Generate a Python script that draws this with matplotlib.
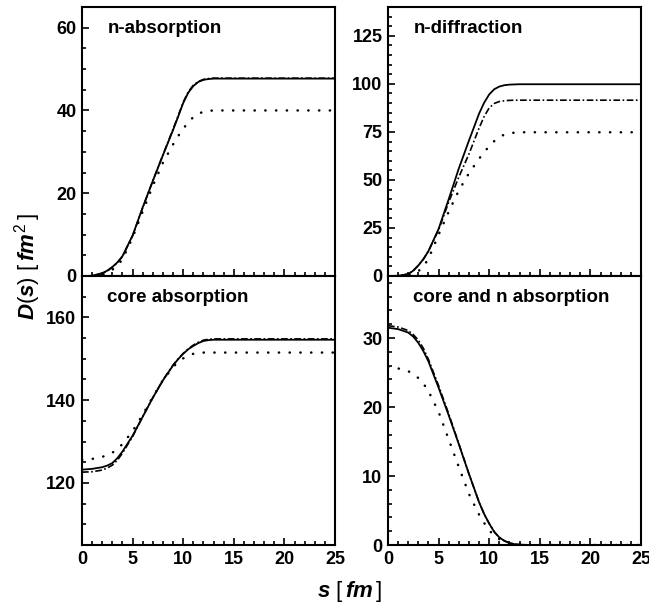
import matplotlib
matplotlib.use("Agg")
import matplotlib.pyplot as plt
from matplotlib.ticker import MultipleLocator

plt.rcParams['font.family'] = ['Liberation Sans', 'DejaVu Sans']
plt.rcParams['mathtext.fontset'] = 'custom'
plt.rcParams['mathtext.it'] = 'Liberation Sans:italic:bold'
plt.rcParams['mathtext.rm'] = 'Liberation Sans'
plt.rcParams['mathtext.bf'] = 'Liberation Sans:bold'

# s grid (fm)
s = [0, 1, 2, 2.5, 3, 3.5, 4, 5, 6, 7, 8, 9, 9.5, 10, 10.5, 11, 11.5, 12, 12.5, 13, 14, 25]

# n-absorption
nabs_solid = [0, 0.05, 0.7, 1.3, 2.2, 3.3, 4.8, 9.8, 16.6, 23, 29.2, 35.3, 38.5, 41.8,
              44.3, 45.9, 46.9, 47.4, 47.6, 47.7, 47.7, 47.7]
nabs_dashdot = [0, 0.05, 0.6, 1.2, 2.1, 3.2, 4.7, 9.7, 16.5, 23, 29.3, 35.5, 38.7, 42,
                44.5, 46.1, 47.0, 47.5, 47.7, 47.8, 47.8, 47.8]
nabs_dotted = [0, 0, 0.3, 0.8, 1.5, 2.6, 4, 9.3, 15.6, 21.8, 27.4, 31.8, 33.8, 35.6,
               37.1, 38.4, 39.2, 39.7, 39.9, 40, 40, 40]

# n-diffraction
ndif_solid = [0, 0.1, 1, 2.8, 5.5, 8.8, 13, 24.5, 40, 56, 70.5, 84.5, 90.2, 94.5,
              97.2, 98.6, 99.3, 99.6, 99.7, 99.8, 99.8, 99.8]
ndif_dashdot = [0, 0.1, 1, 2.8, 5.5, 8.8, 13, 24, 38.5, 51.5, 63.5, 77, 83, 87.5,
                89.8, 90.8, 91.2, 91.4, 91.5, 91.5, 91.5, 91.5]
ndif_dotted = [0, 0, 0.4, 1.2, 2.5, 5, 9, 21.5, 33.5, 44.5, 53.5, 61, 64.5, 67.5,
               70.2, 72.3, 73.6, 74.3, 74.6, 74.8, 74.8, 74.8]

# core absorption
cabs_solid = [123.2, 123.4, 123.8, 124.2, 124.8, 126, 127.6, 131.4, 136, 140.6, 144.8,
              148.4, 149.9, 151.2, 152.3, 153.1, 153.8, 154.3, 154.5, 154.6, 154.6, 154.6]
cabs_dashdot = [122.6, 122.7, 123.1, 123.6, 124.3, 125.5, 127.2, 131.2, 136, 140.6, 144.9,
                148.5, 150, 151.3, 152.4, 153.3, 154, 154.5, 154.7, 154.8, 154.8, 154.8]
cabs_dotted = [125.6, 125.8, 126.3, 126.7, 127.3, 128.2, 129.4, 132.5, 136.5, 140.8, 144.8,
               148, 149.2, 150.1, 150.8, 151.2, 151.4, 151.5, 151.5, 151.5, 151.5, 151.5]

# core and n absorption
cn_solid = [31.5, 31.3, 30.8, 30.2, 29.3, 28.1, 26.6, 22.8, 18.8, 14.6, 10.3, 6.2, 4.5,
            3.1, 1.9, 1.1, 0.6, 0.3, 0.12, 0.05, 0, 0]
cn_dashdot = [31.8, 31.6, 31.1, 30.5, 29.7, 28.5, 26.9, 23.1, 19, 14.7, 10.3, 6.2, 4.5,
              3.1, 1.9, 1.1, 0.6, 0.3, 0.12, 0.05, 0, 0]
cn_dotted = [25.8, 25.6, 25.2, 24.8, 24.2, 23.4, 22.3, 19.3, 15.3, 11.3, 7.4, 4.4, 3.2,
             2.1, 1.4, 0.85, 0.5, 0.25, 0.1, 0.05, 0, 0]

fig = plt.figure(figsize=(6.49, 6.07), dpi=100)

W, H = 253 / 649, 269 / 607
lefts = [82 / 649, 388 / 649]
bottoms = [1 - 276 / 607, 1 - 545 / 607]

panels = [
    ("n-absorption", nabs_solid, nabs_dashdot, nabs_dotted, (0, 65), 20, 5, 0, 0),
    ("n-diffraction", ndif_solid, ndif_dashdot, ndif_dotted, (0, 140), 25, 5, 1, 0),
    ("core absorption", cabs_solid, cabs_dashdot, cabs_dotted, (105, 170), 20, 5, 0, 1),
    ("core and n absorption", cn_solid, cn_dashdot, cn_dotted, (0, 39), 10, 2, 1, 1),
]

for title, ys, yd, yo, ylim, major, minor, col, row in panels:
    ax = fig.add_axes([lefts[col], bottoms[row], W, H])
    ax.plot(s, ys, color='black', lw=1.3, ls='-')
    ax.plot(s, yd, color='black', lw=1.2, ls=(0, (4, 1.5, 1, 1.5)))
    ax.plot(s, yo, color='black', lw=1.8, ls=(0, (0.1, 4.2)), dash_capstyle='round')
    ax.set_xlim(0, 25)
    ax.set_ylim(*ylim)
    ax.xaxis.set_major_locator(MultipleLocator(5))
    ax.xaxis.set_minor_locator(MultipleLocator(1))
    ax.yaxis.set_major_locator(MultipleLocator(major))
    ax.yaxis.set_minor_locator(MultipleLocator(minor))
    ax.tick_params(which='both', direction='in', top=False, right=False,
                   width=1.2, labelsize=13, pad=4)
    ax.tick_params(which='major', length=5)
    ax.tick_params(which='minor', length=3)
    for lab in ax.get_xticklabels() + ax.get_yticklabels():
        lab.set_fontweight('bold')
    if row == 0:
        ax.tick_params(labelbottom=False)
    for sp in ax.spines.values():
        sp.set_linewidth(1.5)
    ax.text(0.1, 0.92, title, transform=ax.transAxes, fontsize=13.5,
            fontweight='bold', ha='left', va='center')

fig.text(0.539, 0.026, r'$\mathit{s}\ [\,\mathit{fm}\,]$', fontsize=16,
         ha='center', va='center')
fig.text(0.042, 0.56, r'$\mathit{D(s)}\ [\,\mathit{fm}^{\mathit{2}}\,]$', fontsize=16,
         ha='center', va='center', rotation=90)

fig.savefig('out.png', dpi=100)
